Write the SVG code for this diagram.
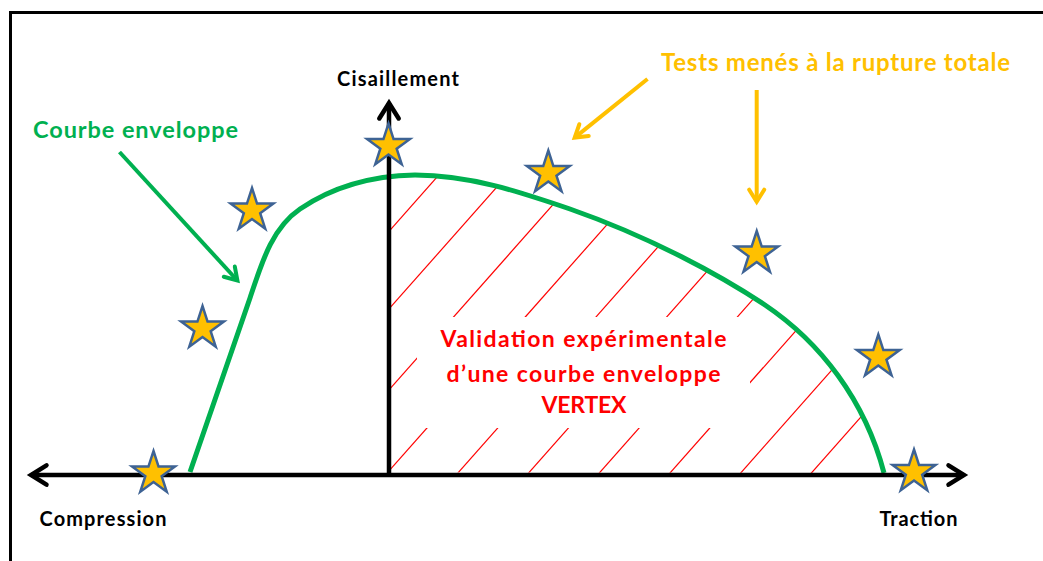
<svg xmlns="http://www.w3.org/2000/svg" width="1043" height="561" viewBox="0 0 1043 561">
<style>
.t{font-family:Lato,"Noto Sans","DejaVu Sans",sans-serif;font-weight:700}
.blk{fill:#000;font-size:20px}
.grn{fill:#00B050;font-size:23.5px}
.yel{fill:#FFC000;font-size:24px}
.red{fill:#FF0000;font-size:23px}
.star{fill:#FFC000;stroke:#3E6394;stroke-width:2.5;stroke-linejoin:miter}
.hatch line{stroke:#FF0000;stroke-width:1.2}
.axis{stroke:#000;stroke-width:4.5;fill:none}
.pg{stroke:#00B050;stroke-width:4;fill:none}
.py{stroke:#FFC000;stroke-width:4;fill:none}
</style>
<defs>
<path id="starShape" d="M0,-22.5 L5.05,-6.95 L21.4,-6.95 L8.17,2.66 L13.22,18.2 L0,8.6 L-13.22,18.2 L-8.17,2.66 L-21.4,-6.95 L-5.05,-6.95 Z"/>
<marker id="mkBlack" markerUnits="userSpaceOnUse" viewBox="-20 -14 26 28" markerWidth="26" markerHeight="28" refX="0" refY="0" orient="auto-start-reverse" overflow="visible">
<path d="M-15.5,-9.7 L0,0 L-15.5,9.7" fill="none" stroke="#000" stroke-width="4.5" stroke-linecap="round" stroke-linejoin="miter"/>
</marker>
<marker id="mkGreen" markerUnits="userSpaceOnUse" viewBox="-16 -12 22 24" markerWidth="22" markerHeight="24" refX="0" refY="0" orient="auto" overflow="visible">
<path d="M-12,-7.5 L0,0 L-12,7.5" fill="none" stroke="#00B050" stroke-width="4" stroke-linecap="round" stroke-linejoin="miter"/>
</marker>
<marker id="mkYellow" markerUnits="userSpaceOnUse" viewBox="-16 -12 22 24" markerWidth="22" markerHeight="24" refX="0" refY="0" orient="auto" overflow="visible">
<path d="M-12,-7.5 L0,0 L-12,7.5" fill="none" stroke="#FFC000" stroke-width="4" stroke-linecap="round" stroke-linejoin="miter"/>
</marker>
<clipPath id="clipQuad">
<path clip-rule="evenodd" d="M389,0 H1043 V475 H389 Z M417,317 V428 H750 V317 Z"/>
</clipPath>
<clipPath id="clipCurve">
<path d="M190,472 L250,298 C262,262 272,228 300,209 C325,192 360,176 415,175 C470,175 520,192 570,209 C650,237 720,275 765,305 C820,342 865,400 884,473 Z"/>
</clipPath>
</defs>

<rect id="frame" x="10.5" y="12.5" width="1100" height="600" fill="none" stroke="#000" stroke-width="3"/>

<g id="hatch" class="hatch" clip-path="url(#clipQuad)">
<g clip-path="url(#clipCurve)">
<line x1="151.2" y1="500" x2="505.2" y2="100"/>
<line x1="219.9" y1="500" x2="573.9" y2="100"/>
<line x1="291.6" y1="500" x2="645.6" y2="100"/>
<line x1="363.3" y1="500" x2="717.3" y2="100"/>
<line x1="434" y1="500" x2="788" y2="100"/>
<line x1="504.7" y1="500" x2="858.7" y2="100"/>
<line x1="575.4" y1="500" x2="929.4" y2="100"/>
<line x1="646.1" y1="500" x2="1000.1" y2="100"/>
<line x1="716.8" y1="500" x2="1070.8" y2="100"/>
<line x1="787.5" y1="500" x2="1141.5" y2="100"/>
</g>
</g>

<g id="envelope-curve">
<path d="M190,472 L250,298 C262,262 272,228 300,209 C325,192 360,176 415,175 C470,175 520,192 570,209 C650,237 720,275 765,305 C820,342 865,400 884,473" fill="none" stroke="#00B050" stroke-width="5"/>
</g>

<g id="axes">
<line id="axis-x" class="axis" x1="31" y1="475" x2="964" y2="475" marker-start="url(#mkBlack)" marker-end="url(#mkBlack)"/>
<line id="axis-y" class="axis" x1="389" y1="477" x2="389" y2="103" marker-end="url(#mkBlack)"/>
</g>

<g id="stars">
<g id="star1"><use href="#starShape" class="star" x="153.5" y="473.5"/></g>
<g id="star2"><use href="#starShape" class="star" x="202.5" y="328.5"/></g>
<g id="star3"><use href="#starShape" class="star" x="252" y="210.5"/></g>
<g id="star4"><use href="#starShape" class="star" x="388.5" y="146"/></g>
<g id="star5"><use href="#starShape" class="star" x="548.3" y="173"/></g>
<g id="star6"><use href="#starShape" class="star" x="756.7" y="253.5"/></g>
<g id="star7"><use href="#starShape" class="star" x="878.3" y="357"/></g>
<g id="star8"><use href="#starShape" class="star" x="914" y="472"/></g>
</g>

<g id="connectors">
<line class="pg" x1="119.5" y1="152" x2="237.4" y2="280.5" marker-end="url(#mkGreen)"/>
<line class="py" x1="647.5" y1="79" x2="574.7" y2="137.6" marker-end="url(#mkYellow)"/>
<line class="py" x1="756.7" y1="90" x2="756.7" y2="201.7" marker-end="url(#mkYellow)"/>
</g>

<g id="label-cisaillement"><text class="t blk" x="337" y="86" textLength="122">Cisaillement</text></g>
<g id="label-compression"><text class="t blk" x="39.5" y="526" textLength="127">Compression</text></g>
<g id="label-traction"><text class="t blk" x="879.5" y="526" textLength="78">Traction</text></g>
<g id="label-courbe"><text class="t grn" x="33" y="138.3" textLength="205">Courbe enveloppe</text></g>
<g id="label-tests"><text class="t yel" x="661" y="70.7" textLength="349">Tests menés à la rupture totale</text></g>
<g id="label-validation">
<text class="t red" x="440.5" y="347.3" textLength="286">Validation expérimentale</text>
<text class="t red" x="446.5" y="381.5" textLength="274">d’une courbe enveloppe</text>
<text class="t red" x="541.5" y="413.3" textLength="85">VERTEX</text>
</g>
</svg>
